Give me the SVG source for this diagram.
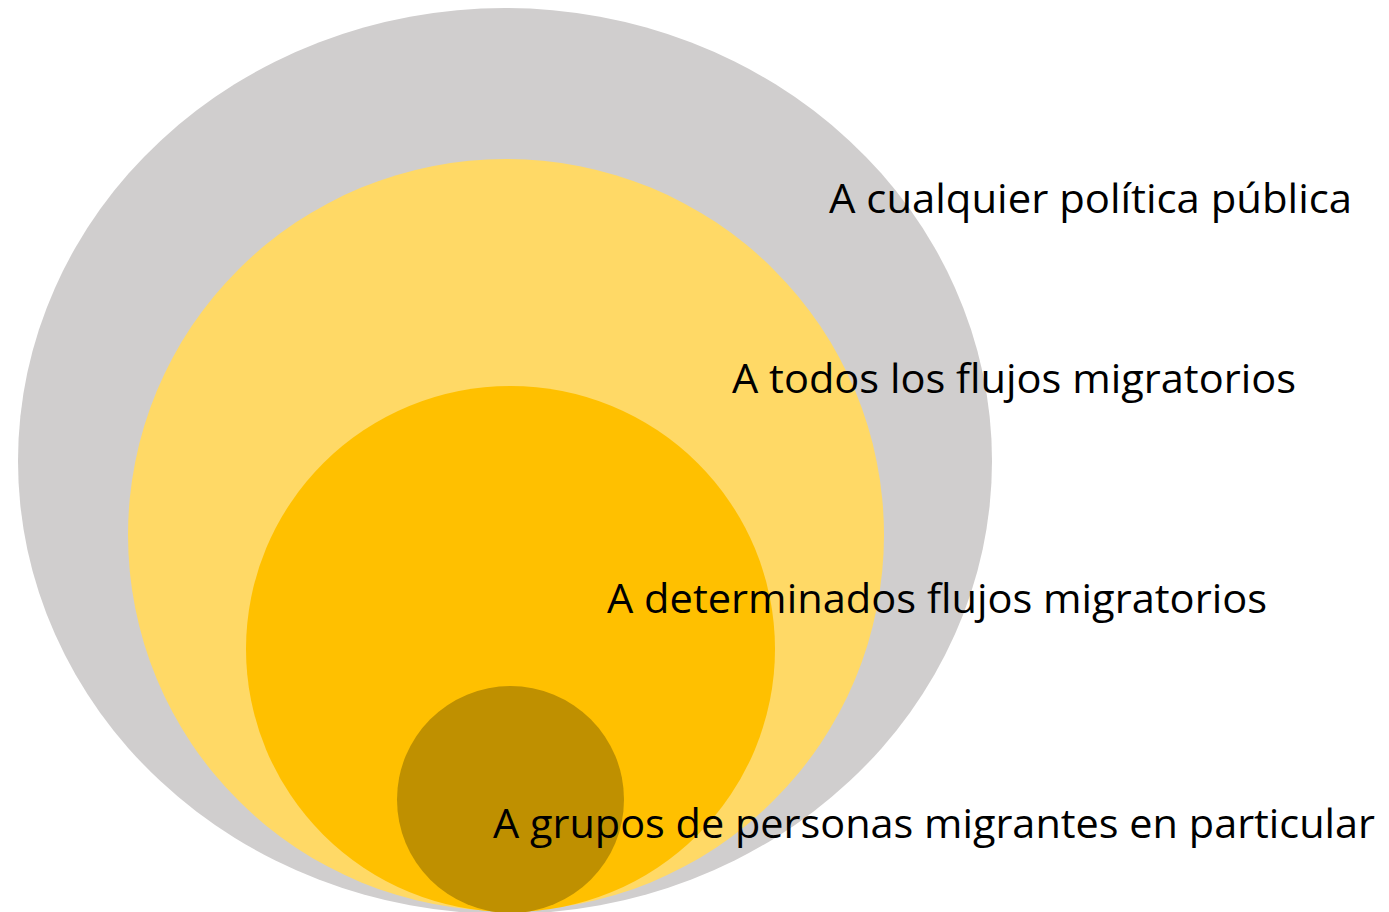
<svg xmlns="http://www.w3.org/2000/svg" width="1389" height="912" viewBox="0 0 1389 912">
<style>
.lbl{font-family:"Open Sans","Liberation Sans",sans-serif;font-size:41px;fill:#000}
</style>
<rect width="1389" height="912" fill="#fff"/>
<g id="n1"><ellipse cx="505" cy="461" rx="487" ry="453" fill="#D0CECE"/></g>
<g id="n2"><ellipse cx="506" cy="535" rx="378" ry="376" fill="#FFD966"/></g>
<g id="n3"><ellipse cx="510.5" cy="649" rx="264.5" ry="263" fill="#FFC000"/></g>
<g id="n4"><circle cx="510.5" cy="799.5" r="113.5" fill="#BF9000"/></g>
<g id="labels">
<text class="lbl" x="829" y="213" textLength="523" lengthAdjust="spacingAndGlyphs">A cualquier política pública</text>
<text class="lbl" x="732" y="393" textLength="564" lengthAdjust="spacingAndGlyphs">A todos los flujos migratorios</text>
<text class="lbl" x="607" y="613" textLength="660" lengthAdjust="spacingAndGlyphs">A determinados flujos migratorios</text>
<text class="lbl" x="493" y="838" textLength="882" lengthAdjust="spacingAndGlyphs">A grupos de personas migrantes en particular</text>
</g>
<g id="connectors"/>
</svg>
